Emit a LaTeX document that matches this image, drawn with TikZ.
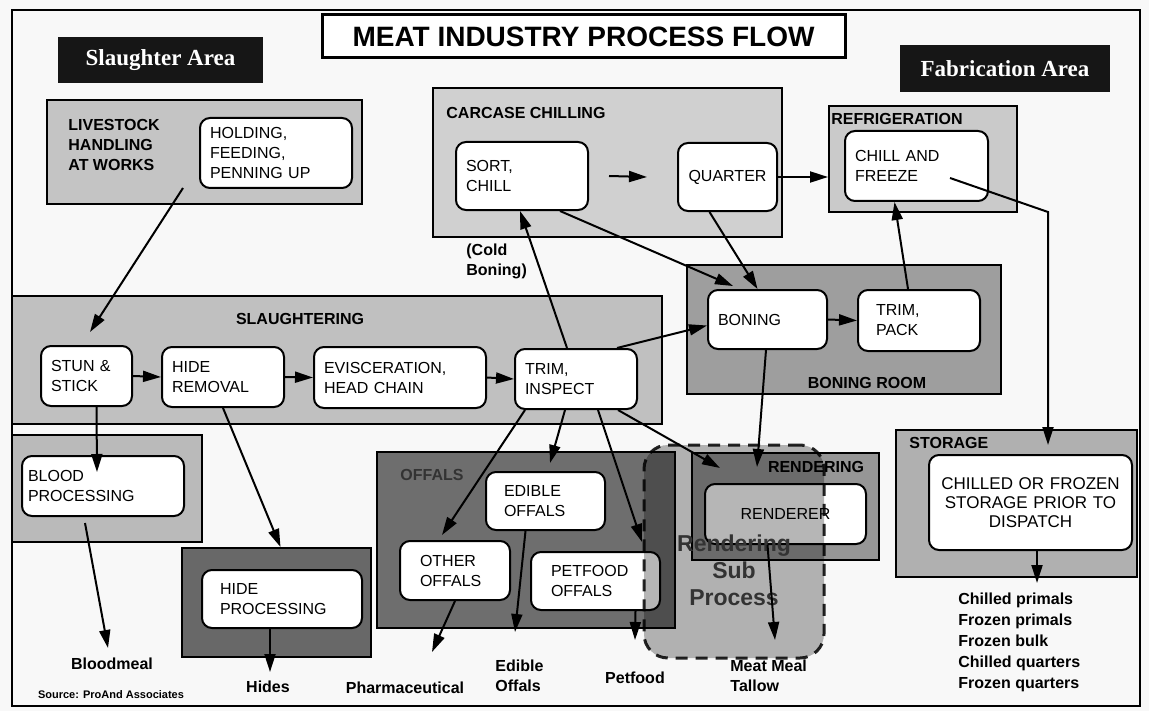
\documentclass[tikz,border=0pt]{standalone}
\usepackage{fontspec}
\setmainfont{Liberation Sans}
\newfontfamily\areafont{Liberation Serif}
\usepackage{tikz}
\usetikzlibrary{arrows.meta,shapes,positioning}
\usepackage{xcolor}
\definecolor{mfpaper}{RGB}{248,248,248}
\definecolor{mfarea}{RGB}{22,22,22}
\definecolor{mfstock}{RGB}{196,196,196}
\definecolor{mfchill}{RGB}{208,208,208}
\definecolor{mfrefrig}{RGB}{202,202,202}
\definecolor{mfslaught}{RGB}{192,192,192}
\definecolor{mfboning}{RGB}{158,158,158}
\definecolor{mfblood}{RGB}{186,186,186}
\definecolor{mfhide}{RGB}{104,104,104}
\definecolor{mfoffal}{RGB}{110,110,110}
\definecolor{mfrender}{RGB}{150,150,150}
\definecolor{mfstore}{RGB}{176,176,176}
\definecolor{mfsub}{RGB}{182,182,182}
\tikzstyle{arrow} = [line width=1pt,-{Triangle[length=9pt,width=5.5pt]},color=black]
\tikzstyle{zone} = [rectangle, draw=black, line width=1pt, inner sep=0pt]
\tikzstyle{proc} = [rectangle, rounded corners=5pt, draw=black, line width=1pt, fill=white, align=left, inner xsep=5pt, inner ysep=0pt, font=\fontsize{8}{10}\selectfont]
\tikzstyle{tag} = [font=\bfseries\fontsize{8}{10}\selectfont, align=left, inner sep=1pt]
\tikzstyle{areatag} = [rectangle, fill=mfarea, text=white, font=\areafont\bfseries\fontsize{11.5}{13}\selectfont]

\begin{document}
\begin{tikzpicture}[x=0.5pt, y=-0.5pt]
    % paper and frame
    \fill[mfpaper] (0,0) rectangle (1149,711);
    \useasboundingbox (0,0) rectangle (1149,711);
    \draw[line width=1.2pt] (12,10) rectangle (1140,706);

    % headings
    \node[rectangle, draw=black, line width=1.5pt, fill=white, minimum width=261.5pt, minimum height=21.5pt, font=\bfseries\fontsize{14}{16}\selectfont] (title) at (583.5,36.5) {MEAT INDUSTRY PROCESS FLOW};
    \node[areatag, minimum width=102.5pt, minimum height=23pt] (slaughterarea) at (160.5,60) {Slaughter Area};
    \node[areatag, minimum width=105pt, minimum height=23.5pt] (fabarea) at (1005,68.5) {Fabrication Area};

    % areas
    \node[zone, fill=mfstock, minimum width=157.5pt, minimum height=52pt] (livestock) at (204.5,152) {};
    \node[zone, fill=mfchill, minimum width=174.5pt, minimum height=74.5pt] (carcase) at (607.5,162.5) {};
    \node[zone, fill=mfrefrig, minimum width=94pt, minimum height=53pt] (refrig) at (923,159) {};
    \node[zone, fill=mfslaught, minimum width=325pt, minimum height=64pt] (slaughter) at (337,360) {};
    \node[zone, fill=mfboning, minimum width=157pt, minimum height=64.5pt] (boningroom) at (844,329.5) {};
    \node[zone, fill=mfblood, minimum width=95pt, minimum height=53.5pt] (blood) at (107,488.5) {};
    \node[zone, fill=mfhide, minimum width=94.5pt, minimum height=54.5pt] (hideproc) at (276.5,602.5) {};
    \node[zone, fill=mfoffal, minimum width=149pt, minimum height=88pt] (offals) at (526,540) {};
    \node[zone, fill=mfrender, minimum width=93.5pt, minimum height=53.5pt] (rendering) at (785.5,506.5) {};
    \node[zone, fill=mfstore, minimum width=120.5pt, minimum height=73.5pt] (storage) at (1016.5,503.5) {};

    % area titles
    \node[tag, anchor=west] (stocktag) at (66,145) {LIVESTOCK\\HANDLING\\AT WORKS};
    \node[tag, anchor=west] (carcasetag) at (444,113) {CARCASE CHILLING};
    \node[tag, anchor=west] (refrigtag) at (829,119) {REFRIGERATION};
    \node[tag] (slaughtertag) at (300,319) {SLAUGHTERING};
    \node[tag] (boningtag) at (867,383) {BONING ROOM};
    \node[tag] (rendertag) at (816,467) {RENDERING};
    \node[tag, text=black!80, anchor=west] (offaltag) at (398,475) {OFFALS};
    \node[tag, anchor=west] (storetag) at (907,443) {STORAGE};
    \node[tag, anchor=west] (coldtag) at (464,261) {(Cold\\Boning)};

    % process steps
    \node[proc, text width=66pt, minimum height=35pt] (holding) at (276,153) {HOLDING,\\FEEDING,\\PENNING UP};
    \node[proc, text width=56pt, minimum height=34pt] (sortchill) at (522,176) {SORT,\\CHILL};
    \node[proc, text width=39.5pt, align=center, minimum height=34pt] (quarter) at (727.5,177) {QUARTER};
    \node[proc, text width=61.5pt, minimum height=35pt] (chillfreeze) at (916.5,166) {CHILL AND\\FREEZE};
    \node[proc, text width=35.5pt, minimum height=30pt] (stun) at (86.5,376) {STUN \&\\STICK};
    \node[proc, text width=51pt, minimum height=30pt] (hiderem) at (223,377) {HIDE\\REMOVAL};
    \node[proc, text width=76pt, minimum height=30.5pt] (evisc) at (400,377.5) {EVISCERATION,\\HEAD CHAIN};
    \node[proc, text width=51pt, minimum height=30pt] (triminsp) at (576,379) {TRIM,\\INSPECT};
    \node[proc, text width=49.5pt, minimum height=29.5pt] (boning) at (767.5,319.5) {BONING};
    \node[proc, text width=43pt, inner xsep=9pt, minimum height=30.5pt] (trimpack) at (919,320.5) {TRIM,\\PACK};
    \node[proc, text width=75pt, inner xsep=3pt, minimum height=30pt] (bloodin) at (103,486) {BLOOD\\PROCESSING};
    \node[proc, text width=62pt, inner xsep=9pt, minimum height=29pt] (hidein) at (282,599) {HIDE\\PROCESSING};
    \node[proc, text width=41.5pt, inner xsep=9pt, minimum height=29pt] (edible) at (545.5,501) {EDIBLE\\OFFALS};
    \node[proc, text width=35pt, inner xsep=10pt, minimum height=29.5pt] (other) at (455,570.5) {OTHER\\OFFALS};
    \node[proc, text width=44.5pt, inner xsep=10pt, minimum height=29pt] (petfood) at (595.5,581) {PETFOOD\\OFFALS};
    \node[proc, text width=74.5pt, align=center, inner xsep=3pt, minimum height=30pt] (renderer) at (785.5,514) {RENDERER};
    \node[proc, text width=97.5pt, align=center, inner xsep=2pt, minimum height=47.5pt, font=\fontsize{8.5}{9.5}\selectfont] (storein) at (1030.5,502.5) {CHILLED OR FROZEN\\STORAGE PRIOR TO\\DISPATCH};

    % rendering sub process
    \node[rectangle, rounded corners=12pt, draw=black!85, line width=1.5pt, dash pattern=on 6pt off 4pt, fill=mfsub, blend mode=multiply, minimum width=90pt, minimum height=106.5pt] (subproc) at (734,551.5) {};
    \node[font=\bfseries\fontsize{11.5}{13.5}\selectfont, text=black!80, align=center] (subtag) at (734,570) {Rendering\\Sub\\Process};

    % products
    \node[tag, align=center] (bloodmeal) at (112,664) {Bloodmeal};
    \node[tag, align=center] (hides) at (268,687) {Hides};
    \node[tag, align=center] (pharma) at (405,688) {Pharmaceutical};
    \node[tag, anchor=west] (edibleout) at (493,676) {Edible\\Offals};
    \node[tag, align=center] (petout) at (635,678) {Petfood};
    \node[tag, anchor=west] (mealout) at (728,676) {Meat Meal\\Tallow};
    \node[tag, anchor=west, font=\bfseries\fontsize{8}{10.5}\selectfont] (stockout) at (956,642) {Chilled primals\\Frozen primals\\Frozen bulk\\Chilled quarters\\Frozen quarters};
    \node[font=\bfseries\fontsize{5.5}{6}\selectfont, inner sep=1pt] (source) at (111,695) {Source: ProAnd Associates};

    % connector ends
    \coordinate (stockfrom) at (183,188);
    \coordinate (stunto) at (90,332);
    \coordinate (bloodto) at (97,472);
    \coordinate (bloodfrom) at (85,523);
    \coordinate (mealto) at (108,648);
    \coordinate (hidesto) at (270,672);
    \coordinate (edibleto) at (550,463);
    \coordinate (otherto) at (442,535);
    \coordinate (petto) at (642,542);
    \coordinate (renderto) at (720,468);
    \coordinate (renderto2) at (757,467);
    \coordinate (boningto) at (733,286);
    \coordinate (freezefrom) at (950,178);
    \coordinate (freezebend) at (1048,212);
    \coordinate (storeto) at (1048,445);
    \coordinate (listto) at (1037,583);
    \coordinate (tallowto) at (775,640);
    \coordinate (pharmato) at (432,652);
    \coordinate (edibleoutto) at (515,632);
    \coordinate (petoutto) at (635,640);

    % slaughter line
    \draw[arrow] (stockfrom) -- (stunto);
    \draw[arrow] (stun.east) -- (hiderem.west);
    \draw[arrow] (hiderem.east) -- (evisc.west);
    \draw[arrow] (evisc.east) -- (triminsp.west);
    \draw[arrow] ([xshift=5pt]stun.south) -- (bloodto);
    \draw[arrow] (bloodfrom) -- (mealto);
    \draw[arrow] (hiderem.south) -- ([xshift=2pt]hideproc.north);
    \draw[arrow] ([xshift=-6pt]hidein.south) -- (hidesto);

    % trim, inspect outlets
    \draw[arrow] ([xshift=-4.5pt]triminsp.north) -- ([xshift=-1pt]sortchill.south);
    \draw[arrow] ([xshift=20.5pt]triminsp.north) -- ([yshift=-3pt]boning.west);
    \draw[arrow] ([xshift=-5.5pt]triminsp.south) -- (edibleto);
    \draw[arrow] ([xshift=-25.5pt]triminsp.south) -- (otherto);
    \draw[arrow] ([xshift=11pt]triminsp.south) -- (petto);
    \draw[arrow] ([xshift=21pt]triminsp.south) -- (renderto);

    % chilling and boning
    \draw[arrow] ([xshift=10pt]sortchill.east) -- ([xshift=-15pt]quarter.west);
    \draw[arrow] (quarter.east) -- (quarter.east -| refrig.west);
    \draw[arrow] ([xshift=19pt]sortchill.south) -- (boningto);
    \draw[arrow] ([xshift=-9pt]quarter.south) -- ([xshift=-5pt]boning.north);
    \draw[arrow] (boning.east) -- (trimpack.west);
    \draw[arrow] ([xshift=-5.5pt]trimpack.north) -- ([xshift=-11pt]chillfreeze.south);
    \draw[arrow] ([xshift=-0.75pt]boning.south) -- (renderto2);
    \draw[arrow] (freezefrom) -- (freezebend) -- (storeto);
    \draw[arrow] ([xshift=3.25pt]storein.south) -- (listto);

    % by-products
    \draw[arrow] ([xshift=-9pt]renderer.south) -- (tallowto);
    \draw[arrow] (other.south) -- (pharmato);
    \draw[arrow] ([xshift=-10pt]edible.south) -- (edibleoutto);
    \draw[arrow] ([xshift=20pt]petfood.south) -- (petoutto);
\end{tikzpicture}
\end{document}
